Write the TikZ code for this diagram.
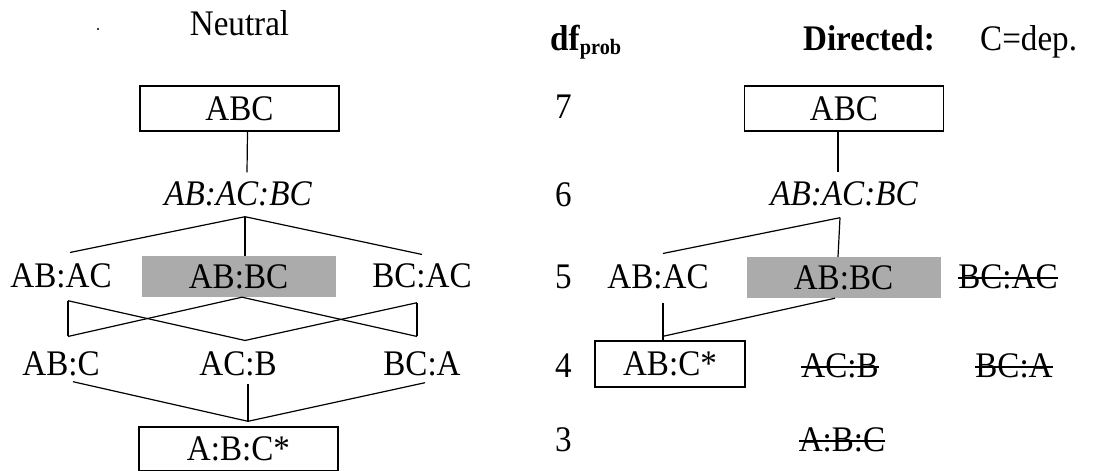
\documentclass[tikz,border=0pt]{standalone}
\usepackage{fontspec}
\setmainfont[FakeStretch=0.92]{Liberation Serif}
\newsavebox\strkbox
\newcommand\strk[1]{\sbox\strkbox{#1}\rlap{\usebox\strkbox}\rule[9.5pt]{\wd\strkbox}{1.5pt}}
\begin{document}
\begin{tikzpicture}[x=1pt,y=-1pt,
  every node/.style={font=\fontsize{36}{42}\selectfont, inner sep=0pt, text=black},
  lbl/.style={anchor=base},
  lblw/.style={anchor=base west},
  boxed/.style={draw=black, line width=1.4pt, minimum width=199pt, minimum height=45pt},
  greybox/.style={fill=black!33, minimum width=194pt, minimum height=41pt},
  conn/.style={line width=1.2pt, draw=black}]
\useasboundingbox (0,0) rectangle (1098,471);

% headers
\fill (98,29) circle (1.2pt);
\node[lbl] (neutral) at (239.5,35) {Neutral};
\node[lblw] (df) at (550,50) {\textbf{df}\raisebox{-4pt}{\fontsize{22}{22}\selectfont\bfseries prob}};
\node[lbl] (directed) at (869,50) {\textbf{Directed:}};
\node[lblw] (cdep) at (980,50) {C=dep.};

% df numbers
\node[lblw] (n7) at (555,118) {7};
\node[lblw] (n6) at (555,206) {6};
\node[lblw] (n5) at (555,288) {5};
\node[lblw] (n4) at (555,377) {4};
\node[lblw] (n3) at (555,451) {3};

% neutral lattice
\node[boxed] (abcL) at (239.5,108.5) {ABC};
\node[lbl] (pL) at (238,205) {\itshape AB:AC:BC};
\node[lbl] (abacL) at (61,287) {AB:AC};
\node[greybox] (abbcL) at (238.5,276.5) {AB:BC};
\node[lbl] (bcacL) at (422,287) {BC:AC};
\node[lbl] (abcL4) at (61,375) {AB:C};
\node[lbl] (acbL) at (238,375) {AC:B};
\node[lbl] (bcaL) at (422,375) {BC:A};
\node[boxed, minimum height=44pt] (indL) at (238.5,449) {A:B:C*};

\draw[conn] ([xshift=8]abcL.south) -- ([xshift=9,yshift=8.5]pL.north);
\draw[conn] ([xshift=7,yshift=-11]pL.south) -- ([xshift=9,yshift=10.5]abacL.north);
\draw[conn] ([xshift=7,yshift=-11]pL.south) -- ([xshift=6.5]abbcL.north);
\draw[conn] ([xshift=7,yshift=-11]pL.south) -- ([yshift=8.5]bcacL.north);

\draw[conn] ([xshift=7,yshift=-13]abacL.south) -- ([xshift=7,yshift=14.5]abcL4.north);
\draw[conn] ([xshift=7,yshift=-13]abacL.south) -- ([xshift=7,yshift=10.5]acbL.north);
\draw[conn] ([xshift=3.5]abbcL.south) -- ([xshift=7,yshift=14.5]abcL4.north);
\draw[conn] ([xshift=3.5]abbcL.south) -- ([xshift=-5,yshift=14.5]bcaL.north);
\draw[conn] ([xshift=-5,yshift=-15]bcacL.south) -- ([xshift=7,yshift=10.5]acbL.north);
\draw[conn] ([xshift=-5,yshift=-15]bcacL.south) -- ([xshift=-5,yshift=14.5]bcaL.north);

\draw[conn] ([xshift=12,yshift=-6]abcL4.south) -- ([xshift=9.5,yshift=5]indL.north);
\draw[conn] ([xshift=10,yshift=-8]acbL.south) -- ([xshift=9.5,yshift=5]indL.north);
\draw[conn] ([xshift=3,yshift=-7]bcaL.south) -- ([xshift=9.5,yshift=5]indL.north);

% directed lattice
\node[boxed] (abcR) at (844,108.5) {ABC};
\node[lbl] (pR) at (844,205) {\itshape AB:AC:BC};
\node[lbl] (abacR) at (658,288) {AB:AC};
\node[greybox] (abbcR) at (843.5,277.5) {AB:BC};
\node[lbl] (bcacR) at (1008,288) {\strk{BC:AC}};
\node[boxed, minimum width=150pt, minimum height=46pt] (abcsR) at (670,364) {AB:C*};
\node[lbl] (acbR) at (840,377) {\strk{AC:B}};
\node[lbl] (bcaR) at (1014,377) {\strk{BC:A}};
\node[lbl] (indR) at (842,451) {\strk{A:B:C}};

\draw[conn] ([xshift=-6]abcR.south) -- ([xshift=-6,yshift=8.5]pR.north);
\draw[conn] ([xshift=-4,yshift=-12]pR.south) -- ([xshift=-5.5]abbcR.north);
\draw[conn] ([xshift=-4,yshift=-12]pR.south) -- ([xshift=5,yshift=10.5]abacR.north);
\draw[conn] ([xshift=5,yshift=-14]abacR.south) -- ([xshift=-7]abcsR.north);
\draw[conn] ([xshift=-8.5]abbcR.south) -- ([xshift=-7,yshift=4]abcsR.north);
\end{tikzpicture}
\end{document}
